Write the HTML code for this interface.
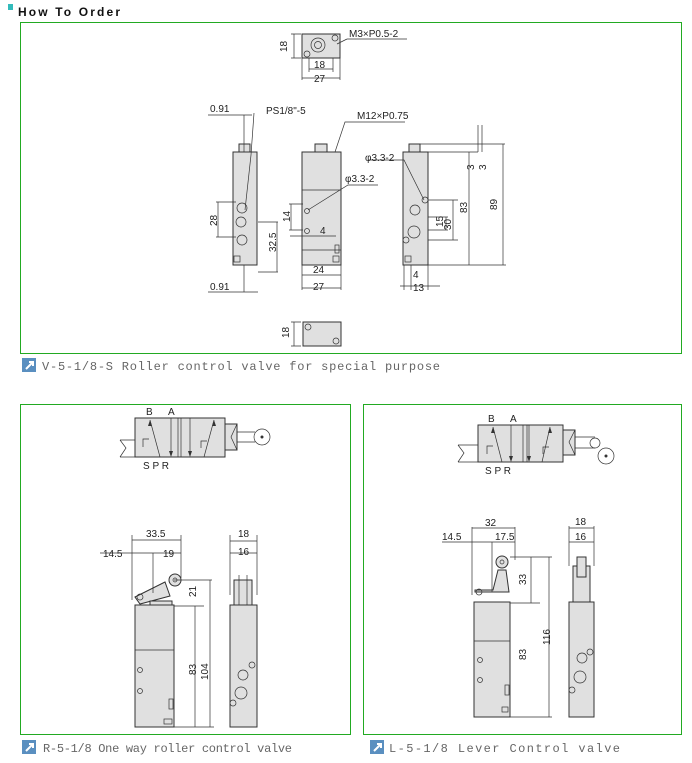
<!DOCTYPE html>
<html><head><meta charset="utf-8"><style>
body{margin:0;background:#fff;width:692px;height:763px;overflow:hidden;font-family:"Liberation Sans",sans-serif}
svg{position:absolute;left:0;top:0}
.t{font-family:"Liberation Sans",sans-serif;font-size:10px;fill:#222}
.c{font-family:"Liberation Mono",monospace;font-size:12px;fill:#666}
.b{fill:#e0e0e0;stroke:#333;stroke-width:1}
.l{stroke:#333;stroke-width:.7;fill:none}
</style></head><body>
<svg width="692" height="763" viewBox="0 0 692 763">
<rect x="8" y="4" width="5" height="6" fill="#3bb"/>
<text x="18" y="16" textLength="102" style="font-family:'Liberation Sans';font-weight:bold;font-size:12px;fill:#111">How To Order</text>
<rect x="20.5" y="22.5" width="661" height="331" fill="none" stroke="#2a2" stroke-width="1"/>
<rect x="20.5" y="404.5" width="330" height="330" fill="none" stroke="#2a2" stroke-width="1"/>
<rect x="363.5" y="404.5" width="318" height="330" fill="none" stroke="#2a2" stroke-width="1"/>
<g><rect x="22" y="358" width="14" height="14" fill="#5a8fc0"/><path d="M26 369 L33 362 M29 362 H33 V366" stroke="#fff" stroke-width="2" fill="none"/></g>
<text x="42" y="370" class="c" textLength="398">V-5-1/8-S  Roller control valve for special purpose</text>
<g><rect x="22" y="740" width="14" height="14" fill="#5a8fc0"/><path d="M26 751 L33 744 M29 744 H33 V748" stroke="#fff" stroke-width="2" fill="none"/></g>
<text x="43" y="752" class="c" textLength="249">R-5-1/8  One way roller control valve</text>
<g><rect x="370" y="740" width="14" height="14" fill="#5a8fc0"/><path d="M374 751 L381 744 M377 744 H381 V748" stroke="#fff" stroke-width="2" fill="none"/></g>
<text x="389" y="752" class="c" textLength="231">L-5-1/8  Lever Control valve</text>

<!-- TOP VIEW -->
<rect x="302" y="34" width="38" height="24" class="b" fill="#eee"/>
<circle cx="318" cy="45" r="7" class="l" fill="#ddd"/><circle cx="318" cy="45" r="3.5" class="l"/>
<circle cx="307" cy="54" r="3" class="l"/><circle cx="335" cy="38" r="3" class="l"/>
<path d="M294 34V58M291 34h10M291 58h10M309 58v14M333 58v14M309 69h24M302 58v22M340 58v22M302 78h38" class="l"/>
<text class="t" transform="translate(287,52) rotate(-90)">18</text>
<text class="t" x="314" y="68">18</text><text class="t" x="314" y="82">27</text>
<text class="t" x="349" y="37">M3×P0.5-2</text><path d="M347 39h60M347 39l-10 5" class="l"/>

<!-- LEFT SIDE VIEW -->
<rect x="239" y="144" width="11" height="8" class="b"/>
<rect x="233" y="152" width="24" height="113" class="b"/>
<circle cx="242" cy="208" r="5" class="l" fill="#ccc"/><circle cx="241" cy="222" r="5" class="l" fill="#ccc"/><circle cx="242" cy="240" r="5" class="l" fill="#ccc"/>
<rect x="234" y="256" width="6" height="6" class="l"/>
<path d="M244 115V152M244 265V292M208 115h44M208 292h50M254 113l-3 42l-6 55M218 202V237M216 202h20M216 237h20M277 222V272M258 222h20M258 272h20" class="l"/>
<text class="t" x="210" y="112">0.91</text><text class="t" x="266" y="114">PS1/8"-5</text>
<text class="t" x="210" y="290">0.91</text>
<text class="t" transform="translate(217,226) rotate(-90)">28</text>
<text class="t" transform="translate(276,252) rotate(-90)">32.5</text>

<!-- MIDDLE VIEW -->
<rect x="315" y="144" width="12" height="8" class="b"/>
<rect x="302" y="152" width="39" height="113" class="b"/>
<path d="M302 190h39M302 250h39" class="l"/>
<rect x="335" y="245" width="4" height="8" class="l"/><rect x="333" y="256" width="6" height="6" class="l"/>
<circle cx="307" cy="211" r="2.5" class="l"/><circle cx="307" cy="231" r="2.5" class="l"/>
<path d="M291 204V230M289 204h14M289 230h14M290 236h46M302 265v25M341 265v25M302 275h39M302 288h39M335 152l10-30h60M308 210l40-25h30" class="l"/>
<text class="t" transform="translate(290,222) rotate(-90)">14</text>
<text class="t" x="320" y="234">4</text>
<text class="t" x="313" y="273">24</text><text class="t" x="313" y="290">27</text>
<text class="t" x="357" y="119">M12×P0.75</text><text class="t" x="345" y="182">φ3.3-2</text>

<!-- RIGHT VIEW -->
<rect x="409" y="144" width="11" height="8" class="b"/>
<rect x="403" y="152" width="25" height="113" class="b"/>
<circle cx="415" cy="210" r="5" class="l" fill="#ccc"/><circle cx="414" cy="232" r="6" class="l" fill="#ccc"/>
<circle cx="406" cy="240" r="3" class="l"/><circle cx="425" cy="200" r="3" class="l"/>
<rect x="405" y="256" width="6" height="6" class="l"/>
<path d="M428 200h30M428 217h20M428 230h20M428 240h30M446 217V230M453 200V240M420 144h85M428 152h50M428 265h78M469 152V265M503 144V265M478 125V152M482 125V152M404 265v25M411 265v25M428 265v25M400 286h40M368 160h36l20 40" class="l"/>
<text class="t" x="365" y="161">φ3.3-2</text>
<text class="t" transform="translate(474,170) rotate(-90)">3</text>
<text class="t" transform="translate(486,170) rotate(-90)">3</text>
<text class="t" transform="translate(443,227) rotate(-90)">15</text>
<text class="t" transform="translate(451,230) rotate(-90)">30</text>
<text class="t" transform="translate(467,213) rotate(-90)">83</text>
<text class="t" transform="translate(497,210) rotate(-90)">89</text>
<text class="t" x="413" y="278">4</text><text class="t" x="413" y="291">13</text>

<!-- BOTTOM VIEW -->
<rect x="303" y="322" width="38" height="24" class="b" fill="#eee"/>
<circle cx="308" cy="327" r="3" class="l"/><circle cx="336" cy="341" r="3" class="l"/>
<path d="M294 322V346M291 322h10M291 346h10" class="l"/>
<text class="t" transform="translate(289,338) rotate(-90)">18</text>

<!-- R SYMBOL -->
<g>
<rect x="135" y="418" width="90" height="39" class="b"/>
<path d="M178 418v39M181 418v39M120 440h15M120 457h15M120 440l6 8l-6 9" class="l"/>
<rect x="225" y="424" width="12" height="26" class="b"/><path d="M237 424l-6 13l6 13M237 432h18M237 442h18" class="l"/>
<circle cx="262" cy="437" r="8" class="l" fill="#eee"/><circle cx="262" cy="437" r="1.5" fill="#333"/>
<path d="M160 457L150 420M171 418V454M190 418V454M204 457L214 420M143 447v-8h6M201 448v-7h6" class="l" stroke-width="1"/>
<path d="M150 420l-2 6h4z M171 457l-2-6h4z M190 457l-2-6h4z M214 420l-2 6h4z" fill="#333"/>
<text class="t" x="146" y="415">B</text><text class="t" x="168" y="415">A</text>
<text class="t" x="143" y="469">S  P  R</text>
</g>
<rect x="135" y="605" width="39" height="122" class="b"/><path d="M135 650h39" class="l"/>
<rect x="169" y="699" width="4" height="10" class="l"/><rect x="164" y="719" width="8" height="5" class="l"/>
<circle cx="140" cy="670" r="2.5" class="l"/><circle cx="140" cy="691" r="2.5" class="l"/>
<path d="M135 597l30-15 5 14-30 8z" class="b"/><circle cx="175" cy="580" r="6" class="b"/><circle cx="175" cy="580" r="2" class="l"/>
<circle cx="140" cy="597" r="3" class="l"/><rect x="150" y="601" width="22" height="4" class="b"/>
<path d="M132 535V600M181 535V578M132 540h49M100 553h81M153 553v40M174 580h38M174 606h30M174 727h40M195 606V727M210 580V727" class="l"/>
<text class="t" x="146" y="537">33.5</text><text class="t" x="103" y="557">14.5</text><text class="t" x="163" y="557">19</text>
<text class="t" transform="translate(196,597) rotate(-90)">21</text>
<text class="t" transform="translate(196,675) rotate(-90)">83</text>
<text class="t" transform="translate(208,680) rotate(-90)">104</text>
<rect x="230" y="605" width="27" height="122" class="b"/>
<rect x="234" y="580" width="18" height="25" class="b"/><path d="M239 575v30M247 575v30" class="l"/>
<circle cx="243" cy="675" r="5" class="l" fill="#ccc"/><circle cx="241" cy="693" r="6" class="l" fill="#ccc"/><circle cx="252" cy="665" r="3" class="l"/><circle cx="233" cy="703" r="3" class="l"/>
<path d="M230 535v60M257 535v60M230 541h27M230 553h27" class="l"/>
<text class="t" x="238" y="537">18</text><text class="t" x="238" y="555">16</text>

<!-- L SYMBOL -->
<g>
<rect x="478" y="425" width="85" height="37" class="b"/>
<path d="M523 425v37M527 425v37M458 445h20M458 462h20M458 445l6 8l-6 9" class="l"/>
<rect x="563" y="430" width="12" height="25" class="b"/><path d="M575 430l-6 12l6 13M575 437h20M575 448h20" class="l"/>
<circle cx="595" cy="443" r="5" class="l" fill="#eee"/>
<circle cx="606" cy="456" r="8" class="l" fill="#eee"/><circle cx="606" cy="456" r="1.5" fill="#333"/>
<path d="M502 462L493 427M511 425V459M529 425V459M542 462L550 427M487 454v-8h6M543 454v-7h6" class="l" stroke-width="1"/>
<path d="M493 427l-2 6h4z M511 462l-2-6h4z M529 462l-2-6h4z M550 427l-2 6h4z" fill="#333"/>
<text class="t" x="488" y="422">B</text><text class="t" x="510" y="422">A</text>
<text class="t" x="485" y="474">S  P  R</text>
</g>
<rect x="474" y="602" width="36" height="115" class="b"/><path d="M474 641h36" class="l"/>
<rect x="505" y="685" width="4" height="10" class="l"/><rect x="502" y="707" width="6" height="5" class="l"/>
<circle cx="480" cy="660" r="2.5" class="l"/><circle cx="480" cy="680" r="2.5" class="l"/>
<path d="M475 590h18l5-20h8l3 22h-34z" class="b"/><circle cx="502" cy="562" r="6" class="b"/><circle cx="502" cy="562" r="2" class="l"/>
<circle cx="479" cy="592" r="3" class="l"/>
<path d="M472 527V595M515 527V560M472 528h43M442 542h73M492 542v50M510 557h42M510 603h30M510 717h42M531 557V603M549 557V717" class="l"/>
<text class="t" x="485" y="526">32</text><text class="t" x="442" y="540">14.5</text><text class="t" x="495" y="540">17.5</text>
<text class="t" transform="translate(526,585) rotate(-90)">33</text>
<text class="t" transform="translate(526,660) rotate(-90)">83</text>
<text class="t" transform="translate(550,645) rotate(-90)">116</text>
<rect x="569" y="602" width="25" height="115" class="b"/>
<rect x="573" y="566" width="17" height="36" class="b"/><rect x="577" y="557" width="9" height="20" class="b"/>
<circle cx="582" cy="658" r="5" class="l" fill="#ccc"/><circle cx="580" cy="677" r="6" class="l" fill="#ccc"/><circle cx="590" cy="652" r="3" class="l"/><circle cx="572" cy="690" r="3" class="l"/>
<path d="M569 526v40M594 526v40M569 528h25M569 542h25" class="l"/>
<text class="t" x="575" y="525">18</text><text class="t" x="575" y="540">16</text>
</svg>
</body></html>
